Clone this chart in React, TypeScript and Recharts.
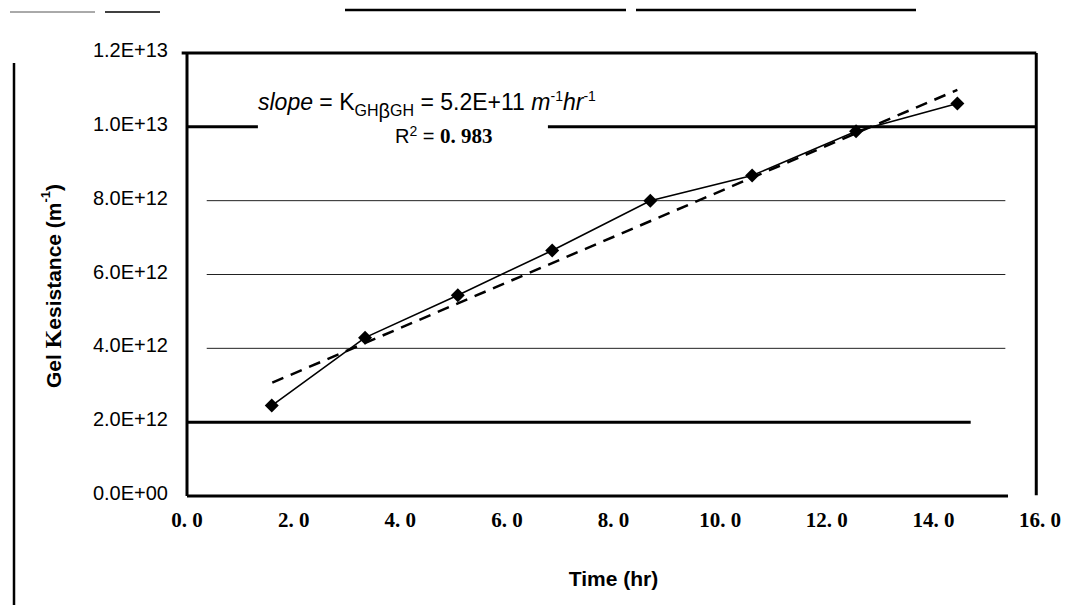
import React from 'react';
import { ComposedChart, Line, XAxis, YAxis, ReferenceLine } from 'recharts';

// ---- data ----
const timeHr = [1.59, 3.34, 5.08, 6.85, 8.69, 10.6, 12.55, 14.45];
const gelResistance = [2.45e12, 4.29e12, 5.44e12, 6.65e12, 8.0e12, 8.68e12, 9.88e12, 10.63e12];
const trendTime = [1.6, 14.45];
const trendResistance = [3.07e12, 11.0e12];
const xTicks = [0, 2, 4, 6, 8, 10, 12, 14, 16];
const yTicks = [0, 2e12, 4e12, 6e12, 8e12, 1e13, 1.2e13];

const points = timeHr.map((x, i) => ({ x, y: gelResistance[i] }));
const trend = trendTime.map((x, i) => ({ x, y: trendResistance[i] }));

const fmtY = (v: number) => {
  if (v === 0) return '0.0E+00';
  const e = Math.floor(Math.log10(v) + 1e-9);
  const m = v / Math.pow(10, e);
  return `${m.toFixed(1)}E+${e < 10 ? '0' + e : e}`;
};
const fmtX = (v: number) => v.toFixed(1).replace('.', '. ');

const Diamond = (p: any) => {
  const { cx, cy, index } = p;
  if (cx == null || cy == null) return null;
  const s = 7;
  return (
    <path
      key={`d${index}`}
      d={`M${cx},${cy - s}L${cx + s},${cy}L${cx},${cy + s}L${cx - s},${cy}Z`}
      fill="#000"
    />
  );
};

const YLabel = () => (
  <text
    x={53}
    y={286}
    transform="rotate(-90, 53, 286)"
    textAnchor="middle"
    dominantBaseline="central"
    fontFamily="'Liberation Sans', Arial, sans-serif"
    fontWeight="bold"
    fontSize={21}
    fill="#000"
  >
    <tspan>Gel </tspan>
    <tspan fontFamily="'Liberation Serif', serif" fontSize={24}>K</tspan>
    <tspan>esistance (m</tspan>
    <tspan fontSize={13} dy={-8}>-1</tspan>
    <tspan dy={8}>)</tspan>
  </text>
);

const thick = { stroke: '#000', strokeWidth: 3 };
const thin = { stroke: '#222', strokeWidth: 1 };

export default function App() {
  return (
    <div style={{ position: 'absolute', left: 0, top: 0, width: 1066, height: 614, background: '#fff' }}>
      <ComposedChart
        width={1066}
        height={614}
        margin={{ top: 53, right: 26, left: 0, bottom: 0 }}
      >
        <XAxis
          type="number"
          dataKey="x"
          domain={[0, 16]}
          ticks={xTicks}
          tickFormatter={fmtX}
          axisLine={false}
          tickLine={false}
          tickSize={0}
          tickMargin={16}
          height={118}
          allowDataOverflow
          tick={{ fontFamily: "'Liberation Serif', serif", fontWeight: 'bold', fontSize: 21, fill: '#000' }}
          label={{
            value: 'Time (hr)',
            position: 'insideBottom',
            offset: 28,
            style: { fontFamily: "'Liberation Sans', Arial, sans-serif", fontWeight: 'bold', fontSize: 21, fill: '#000' },
          }}
        />
        <YAxis
          type="number"
          dataKey="y"
          domain={[0, 1.2e13]}
          ticks={yTicks}
          tickFormatter={fmtY}
          width={187}
          axisLine={{ stroke: '#000', strokeWidth: 3 }}
          tickLine={false}
          tickSize={0}
          tickMargin={19}
          tick={{ fontFamily: "'Liberation Sans', Arial, sans-serif", fontSize: 20, fill: '#000', dy: -3 }}
          label={<YLabel />}
        />
        {/* frame and grid lines of the scanned figure */}
        <ReferenceLine ifOverflow="visible" segment={[{ x: -0.1, y: 1.2e13 }, { x: 15.93, y: 1.2e13 }]} {...thick} />
        <ReferenceLine ifOverflow="visible" segment={[{ x: 15.93, y: 0.02e12 }, { x: 15.93, y: 1.2e13 }]} {...thick} />
        <ReferenceLine ifOverflow="visible" segment={[{ x: 0, y: 1e13 }, { x: 1.33, y: 1e13 }]} {...thick} />
        <ReferenceLine ifOverflow="visible" segment={[{ x: 6.77, y: 1e13 }, { x: 15.93, y: 1e13 }]} {...thick} />
        <ReferenceLine ifOverflow="visible" segment={[{ x: 0.37, y: 8e12 }, { x: 15.35, y: 8e12 }]} {...thin} />
        <ReferenceLine ifOverflow="visible" segment={[{ x: 0.37, y: 6e12 }, { x: 15.35, y: 6e12 }]} {...thin} />
        <ReferenceLine ifOverflow="visible" segment={[{ x: 0.37, y: 4e12 }, { x: 15.35, y: 4e12 }]} {...thin} />
        <ReferenceLine ifOverflow="visible" segment={[{ x: 0, y: 2e12 }, { x: 14.7, y: 2e12 }]} {...thick} />
        <ReferenceLine ifOverflow="visible" segment={[{ x: 0, y: 0 }, { x: 15.4, y: 0 }]} {...thick} />

        <Line
          data={trend}
          dataKey="y"
          type="linear"
          stroke="#000"
          strokeWidth={2.5}
          strokeDasharray="12 8"
          dot={false}
          activeDot={false}
          isAnimationActive={false}
        />
        <Line
          data={points}
          dataKey="y"
          type="linear"
          stroke="#000"
          strokeWidth={1.6}
          dot={<Diamond />}
          activeDot={false}
          isAnimationActive={false}
        />
      </ComposedChart>

      {/* annotation and scan marks */}
      <svg
        width={1066}
        height={614}
        style={{ position: 'absolute', left: 0, top: 0, pointerEvents: 'none' }}
      >
        <line x1={345} y1={10} x2={626} y2={10} stroke="#000" strokeWidth={2.5} />
        <line x1={636} y1={10} x2={916} y2={10} stroke="#000" strokeWidth={2.5} />
        <line x1={10} y1={12} x2={95} y2={12} stroke="#555" strokeWidth={1} />
        <line x1={105} y1={12} x2={160} y2={12} stroke="#000" strokeWidth={1.5} />
        <line x1={14} y1={63} x2={14} y2={605} stroke="#000" strokeWidth={2.5} />
        <text
          x={258}
          y={110}
          fontFamily="'Liberation Sans', Arial, sans-serif"
          fontSize={23}
          fill="#000"
        >
          <tspan fontStyle="italic">slope</tspan>
          <tspan> = K</tspan>
          <tspan fontSize={16} dy={6}>GH</tspan>
          <tspan fontSize={20} dy={2}>β</tspan>
          <tspan fontSize={16} dy={-2}>GH</tspan>
          <tspan dy={-6}> = 5.2E+11 </tspan>
          <tspan fontStyle="italic">m</tspan>
          <tspan fontSize={14} dy={-9}>-1</tspan>
          <tspan fontStyle="italic" dy={9}>hr</tspan>
          <tspan fontSize={14} dy={-9}>-1</tspan>
        </text>
        <text x={395} y={143} fontFamily="'Liberation Sans', Arial, sans-serif" fontSize={20} fill="#000">
          <tspan>R</tspan>
          <tspan fontSize={14} dy={-7}>2</tspan>
          <tspan dy={7}> = </tspan>
          <tspan fontFamily="'Liberation Serif', serif" fontWeight="bold" fontSize={21}>0. 983</tspan>
        </text>
      </svg>
    </div>
  );
}
